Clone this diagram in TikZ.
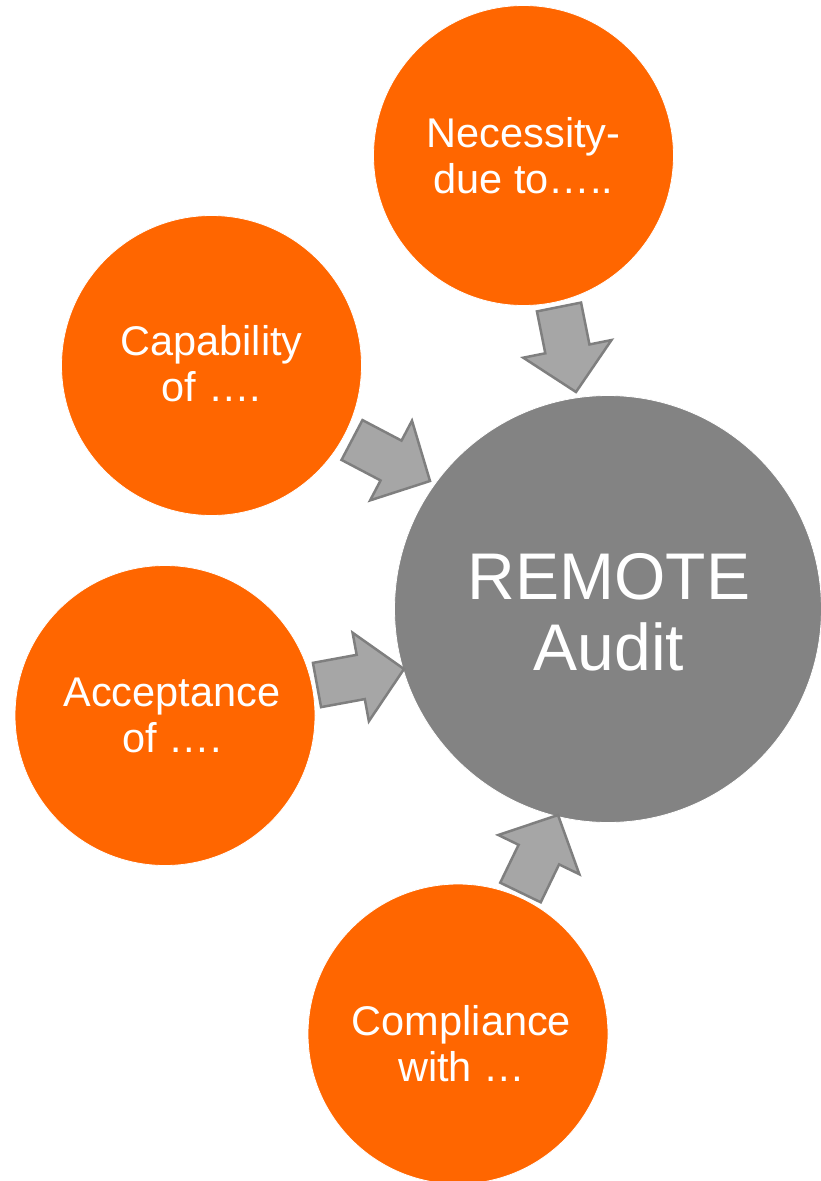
\documentclass[tikz,border=0pt]{standalone}
\usepackage{fontspec}
\setmainfont{Liberation Sans}
\usetikzlibrary{calc}
\definecolor{orangefill}{HTML}{FF6600}
\definecolor{centerfill}{HTML}{838383}
\definecolor{arrowfill}{HTML}{A6A6A6}
\definecolor{arrowline}{HTML}{7F7F7F}
\tikzset{
  smallcirc/.style={circle, fill=orangefill, draw=white, line width=0.8pt, minimum size=300pt, inner sep=0pt},
  bigcirc/.style={circle, fill=centerfill, draw=white, line width=0.8pt, minimum size=427pt, inner sep=0pt},
  smalltext/.style={text=white, align=center, inner sep=0pt, font=\fontsize{41.5}{46}\selectfont},
  bigtext/.style={text=white, align=center, inner sep=0pt, font=\fontsize{66}{71}\selectfont},
  blockarrowstyle/.style={fill=arrowfill, draw=arrowline, line width=2.5pt, line join=miter}
}
\newcommand\blockarrow[2]{%
  \path coordinate (hb) at ($(#2)!44pt!(#1)$);
  \draw[blockarrowstyle]
    ($(#1)!22.5pt!90:(#2)$) -- ($(hb)!22.5pt!90:(#2)$) -- ($(hb)!45pt!90:(#2)$) --
    (#2) --
    ($(hb)!45pt!-90:(#2)$) -- ($(hb)!22.5pt!-90:(#2)$) -- ($(#1)!22.5pt!-90:(#2)$) -- cycle;
}
\begin{document}
\begin{tikzpicture}[x=1pt, y=-1pt]
  \useasboundingbox (0,0) rectangle (821,1181);
  % circles
  \node[bigcirc] (rem) at (608,609) {};
  \node[smallcirc] (nec) at (523.5,155.5) {};
  \node[smallcirc] (cap) at (211.5,365.5) {};
  \node[smallcirc] (acc) at (165,715.5) {};
  \node[smallcirc] (com) at (458,1034) {};
  % texts
  \node[bigtext] (remt) at ([shift={(1,3)}]rem.center) {REMOTE\\Audit};
  \node[smalltext] (nect) at (nec.center) {Necessity-\\due to…..};
  \node[smalltext] (capt) at ([shift={(0,-1.5)}]cap.center) {Capability\\of ….};
  \node[smalltext] (acct) at ([shift={(7,0)}]acc.center) {Acceptance\\of ….};
  \node[smalltext] (comt) at ([shift={(3.5,10)}]com.center) {Compliance\\with …};
  % arrow end points
  \coordinate (a1s) at (559,307);   \coordinate (a1e) at (576,392);
  \coordinate (a2s) at (352,440);   \coordinate (a2e) at (430,481);
  \coordinate (a3s) at (317,685);   \coordinate (a3e) at (404,669);
  \coordinate (a4s) at (520.5,892.5); \coordinate (a4e) at (558,815);
  \blockarrow{a1s}{a1e}
  \blockarrow{a2s}{a2e}
  \blockarrow{a3s}{a3e}
  \blockarrow{a4s}{a4e}
\end{tikzpicture}
\end{document}
